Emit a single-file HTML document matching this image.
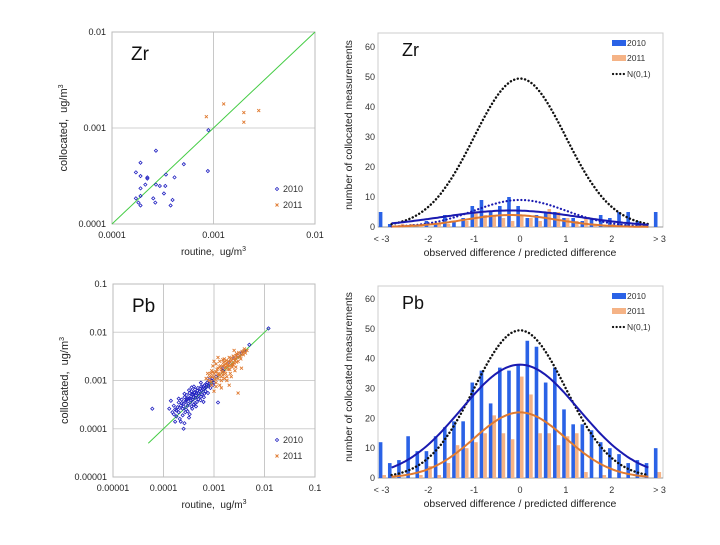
<!DOCTYPE html>
<html><head><meta charset="utf-8"><style>
body{margin:0;background:#fff;width:720px;height:540px;overflow:hidden}
svg{font-family:"Liberation Sans",sans-serif}
</style></head><body>
<svg id="fig" width="720" height="540" viewBox="0 0 720 540" xmlns="http://www.w3.org/2000/svg"></svg>
<script>
// ---- data ----
const histCategories = ["<-3","-2.8","-2.6","-2.4","-2.2","-2","-1.8","-1.6","-1.4","-1.2","-1","-0.8","-0.6","-0.4","-0.2","0","0.2","0.4","0.6","0.8","1","1.2","1.4","1.6","1.8","2","2.2","2.4","2.6","2.8",">3"];
const zrHist2010 = [5,1,0,0,0,2,1,4,2,3,7,9,5,7,10,7,3,4,5,5,3,3,2,3,4,3,5,5,2,1,5];
const zrHist2011 = [0,0,1,1,1,0,1,1,0,2,5,4,4,3,2,4,3,2,6,5,3,2,3,1,0,1,0,0,1,0,0];
const pbHist2010 = [12,5,6,14,9,9,14,17,19,19,32,36,25,37,36,38,46,44,32,37,23,18,18,16,12,10,8,5,6,5,10];
const pbHist2011 = [1,0,0,0,1,4,1,5,11,10,12,15,21,15,13,34,28,15,15,11,14,15,2,0,1,0,0,0,0,0,2];
// fitted curves: [peak, mean, sigma]
const zrFit2010 = [5.5,-0.2,1.5];
const zrFit2011 = [4,-0.2,1.0];
const zrNorm2010 = [9,0,1];
const zrNorm = [49.5,0,1];
const pbFit2010 = [38,0,1.28];
const pbFit2011 = [22,0,1.0];
const pbNorm = [49.5,0,1];
const yTicks = [0,10,20,30,40,50,60];
const xTickLabels = ["< -3","-2","-1","0","1","2","> 3"];
const xTickValues = [-3,-2,-1,0,1,2,3];

const zrScatter2010 = [[1.72e-4,3.45e-4],[1.91e-4,4.35e-4],[1.91e-4,3.16e-4],[2.23e-4,3.06e-4],[2.23e-4,2.97e-4],[1.91e-4,2.35e-4],[2.13e-4,2.57e-4],[2.71e-4,5.8e-4],[2.71e-4,2.57e-4],[2.96e-4,2.49e-4],[3.40e-4,3.27e-4],[4.13e-4,3.06e-4],[3.35e-4,2.49e-4],[5.1e-4,4.2e-4],[1.72e-4,1.85e-4],[1.82e-4,1.67e-4],[1.91e-4,1.96e-4],[1.91e-4,1.56e-4],[2.55e-4,1.85e-4],[2.67e-4,1.67e-4],[3.25e-4,2.08e-4],[3.95e-4,1.78e-4],[3.78e-4,1.56e-4],[8.8e-4,3.56e-4],[8.9e-4,9.5e-4]];
const zrScatter2011 = [[8.5e-4,1.31e-3],[1.26e-3,1.78e-3],[1.99e-3,1.45e-3],[1.99e-3,1.15e-3],[2.79e-3,1.52e-3]];
const pbScatter2010 = [[1.5e-4,2.2e-4],[1.6e-4,3e-4],[1.7e-4,2.5e-4],[1.8e-4,1.8e-4],[1.9e-4,2.8e-4],[2e-4,3.5e-4],[2e-4,2.2e-4],[2.1e-4,1.6e-4],[2.2e-4,3e-4],[2.3e-4,4e-4],[2.4e-4,2.6e-4],[2.5e-4,3.3e-4],[2.6e-4,4.5e-4],[2.7e-4,2.2e-4],[2.8e-4,3.8e-4],[2.9e-4,5e-4],[3e-4,3e-4],[3.1e-4,4.2e-4],[3.2e-4,1.7e-4],[3.3e-4,5.5e-4],[3.4e-4,3.5e-4],[3.5e-4,4.6e-4],[3.6e-4,6e-4],[3.7e-4,2.6e-4],[3.8e-4,4e-4],[3.9e-4,5.2e-4],[4e-4,3.2e-4],[4.2e-4,6.5e-4],[4.3e-4,4.4e-4],[4.5e-4,5.5e-4],[4.6e-4,3.6e-4],[4.8e-4,7e-4],[5e-4,4.8e-4],[5.2e-4,6e-4],[5.4e-4,3.9e-4],[5.6e-4,7.5e-4],[5.8e-4,5.2e-4],[6e-4,6.6e-4],[6.3e-4,4.5e-4],[6.5e-4,8e-4],[6.8e-4,6e-4],[7e-4,7.2e-4],[7.3e-4,9e-4],[7.6e-4,5.5e-4],[8e-4,8.5e-4],[8.5e-4,7e-4],[9e-4,1e-3],[9.5e-4,8e-4],[1e-3,9e-4],[2.2e-4,1.4e-4],[2.6e-4,1.3e-4],[3.3e-4,2e-4],[1.4e-4,3.8e-4],[1.3e-4,2.6e-4],[6e-5,2.6e-4],[2.5e-4,1e-4],[1.2e-3,3.5e-4],[0.012,0.012],[5e-3,5.5e-3],[3e-3,3.3e-3],[2e-3,2.4e-3],[1.5e-3,1.6e-3],[4e-3,4.2e-3],[4.4e-4,2.9e-4],[5.5e-4,9e-4],[6.2e-4,3.6e-4],[3.6e-4,7.2e-4],[2.8e-4,2.5e-4],[7.5e-4,1.1e-3],[1.7e-4,1.4e-4],
 [1.6e-4,2e-4],[1.8e-4,2.4e-4],[2.1e-4,2.7e-4],[2.3e-4,3.4e-4],[2.5e-4,2.9e-4],[2.7e-4,3.6e-4],[2.9e-4,4.1e-4],[3.1e-4,3.3e-4],[3.3e-4,4.3e-4],[3.5e-4,3.9e-4],[3.7e-4,5.1e-4],[3.9e-4,4.5e-4],[4.1e-4,5.6e-4],[4.4e-4,4.9e-4],[4.7e-4,6.1e-4],[4.9e-4,5.5e-4],[5.3e-4,6.7e-4],[5.7e-4,6.2e-4],[6.1e-4,7.4e-4],[6.6e-4,7e-4],[7.1e-4,8.2e-4],[7.8e-4,7.8e-4],[8.3e-4,9.5e-4],[8.8e-4,8.8e-4],[9.2e-4,1.1e-3],[2.4e-4,1.9e-4],[3e-4,2.3e-4],[3.6e-4,2.9e-4],[4.2e-4,3.4e-4],[4.9e-4,4.1e-4],[5.5e-4,4.6e-4],[6.4e-4,5.3e-4],[2e-4,4.2e-4],[2.6e-4,5.3e-4],[3.2e-4,6.3e-4],[4e-4,7.5e-4],[1.5e-3,1.8e-3],[2.5e-3,2.9e-3],[3.5e-3,3.7e-3],[1.1e-3,1.2e-3]];
const pbScatter2011 = [[8e-4,1e-3],[8.5e-4,1.4e-3],[9e-4,8e-4],[9.5e-4,2e-3],[1e-3,1.2e-3],[1e-3,6e-4],[1.1e-3,1.5e-3],[1.1e-3,9e-4],[1.2e-3,1.8e-3],[1.2e-3,1.1e-3],[1.3e-3,2.5e-3],[1.3e-3,1.3e-3],[1.4e-3,1e-3],[1.4e-3,1.7e-3],[1.5e-3,2e-3],[1.5e-3,1.3e-3],[1.6e-3,2.8e-3],[1.6e-3,1.5e-3],[1.7e-3,1.9e-3],[1.8e-3,1.2e-3],[1.8e-3,2.3e-3],[1.9e-3,1.7e-3],[2e-3,3e-3],[2e-3,2e-3],[2.1e-3,1.4e-3],[2.2e-3,2.6e-3],[2.3e-3,1.9e-3],[2.4e-3,3.2e-3],[2.5e-3,2.3e-3],[2.6e-3,1.6e-3],[2.7e-3,2.9e-3],[2.8e-3,3.6e-3],[3e-3,2.5e-3],[3e-3,5.5e-4],[3.2e-3,3.3e-3],[3.4e-3,2.8e-3],[3.6e-3,4e-3],[3.8e-3,3.4e-3],[4e-3,4.5e-3],[4.2e-3,3.7e-3],[4.5e-3,4.2e-3],[1e-3,2.5e-3],[1.2e-3,3e-3],[7e-4,1.1e-3],[2.5e-3,4.2e-3],[1.7e-3,2.2e-3],[2e-3,8e-4],[3.5e-3,1.8e-3],[9e-4,1.6e-3],[1.4e-3,7e-4],[1.1e-3,2.2e-3],[1.3e-3,8e-4],[2.2e-3,1.2e-3],[9e-4,1.2e-3],[1.6e-3,1.1e-3],
 [8.2e-4,1.2e-3],[8.8e-4,9.5e-4],[9.6e-4,1.5e-3],[1.05e-3,1.05e-3],[1.15e-3,1.7e-3],[1.25e-3,1.4e-3],[1.35e-3,2e-3],[1.45e-3,1.5e-3],[1.55e-3,2.4e-3],[1.65e-3,1.8e-3],[1.75e-3,2.6e-3],[1.85e-3,2e-3],[1.95e-3,2.5e-3],[2.05e-3,1.7e-3],[2.15e-3,2.9e-3],[2.3e-3,2.2e-3],[2.45e-3,2.8e-3],[2.6e-3,2.6e-3],[2.75e-3,3.3e-3],[2.9e-3,3e-3],[3.1e-3,3.8e-3],[3.3e-3,3.1e-3],[3.7e-3,3.6e-3],[3.9e-3,4.1e-3],[1.2e-3,1.3e-3],[1.4e-3,1.2e-3],[1.7e-3,1.4e-3],[1.9e-3,2.1e-3],[2.2e-3,2e-3],[1.0e-3,1.4e-3],[1.3e-3,1.9e-3],[1.6e-3,2.1e-3],[2.1e-3,2.4e-3],[2.4e-3,2.1e-3],[2.8e-3,2.4e-3],[1.1e-3,7.5e-4],[1.8e-3,1e-3],[2.7e-3,1.9e-3],[7.5e-4,1.4e-3],[1.5e-3,2.7e-3]];

const NS="http://www.w3.org/2000/svg";
const svg=document.getElementById('fig');
function mk(tag,attrs,parent,text){const e=document.createElementNS(NS,tag);for(const k in attrs)e.setAttribute(k,attrs[k]);if(text!==undefined)e.textContent=text;(parent||svg).appendChild(e);return e;}

// ---- scatter panels ----
function scatter(cfg){
  const g=mk('g',{});
  
  
  const lx=v=>cfg.x0+(Math.log10(v)-cfg.dmin)/(cfg.dmax-cfg.dmin)*(cfg.x1-cfg.x0);
  const ly=v=>cfg.y1-(Math.log10(v)-cfg.ymin)/(cfg.ymax-cfg.ymin)*(cfg.y1-cfg.y0);
  for(let d=cfg.dmin;d<=cfg.dmax;d++){
    const x=lx(Math.pow(10,d));
    const l=mk('line',{x1:x,x2:x,y1:cfg.y0,y2:cfg.y1,stroke:'#c8c8c8','stroke-width':1},g);
    
    
    const t=mk('text',{x:x,y:cfg.y1+14,'font-size':9,'text-anchor':'middle',fill:'#222'},g,cfg.xlabels[d-cfg.dmin]);
    
    
  }
  for(let d=cfg.ymin;d<=cfg.ymax;d++){
    const y=ly(Math.pow(10,d));
    const l=mk('line',{x1:cfg.x0,x2:cfg.x1,y1:y,y2:y,stroke:'#d0d0d0','stroke-width':1},g);
    
    
    const t=mk('text',{x:cfg.x0-6,y:y+3,'font-size':9,'text-anchor':'end',fill:'#222'},g,cfg.ylabels[d-cfg.ymin]);
    
    
  }
  const fr=mk('rect',{x:cfg.x0,y:cfg.y0,width:cfg.x1-cfg.x0,height:cfg.y1-cfg.y0,fill:'none',stroke:'#bbb'},g);
  
  
  const ln=mk('line',{x1:lx(cfg.line[0]),y1:ly(cfg.line[0]),x2:lx(cfg.line[1]),y2:ly(cfg.line[1]),stroke:'#44cc44','stroke-width':1},g);
  
  
  cfg.s1.forEach(p=>{
    const x=lx(p[0]),y=ly(p[1]);
    const m=mk('path',{d:`M${x} ${y-1.6}L${x+1.6} ${y}L${x} ${y+1.6}L${x-1.6} ${y}Z`,fill:'none',stroke:'#2020c0','stroke-width':0.8},g);
    
    
  });
  cfg.s2.forEach(p=>{
    const x=lx(p[0]),y=ly(p[1]);
    const m=mk('path',{d:`M${x-1.5} ${y-1.5}L${x+1.5} ${y+1.5}M${x+1.5} ${y-1.5}L${x-1.5} ${y+1.5}`,stroke:'#e07a30','stroke-width':0.9},g);
    
    
  });
  const el=mk('text',{x:cfg.x0+19,y:cfg.y0+28,'font-size':19,fill:'#111'},g,cfg.el);
  
  
  const lg1=mk('path',{d:`M${cfg.x1-38} ${cfg.leg-1.6}l1.6 1.6l-1.6 1.6l-1.6 -1.6z`,fill:'none',stroke:'#2020c0','stroke-width':0.8},g);
  
  
  const lt1=mk('text',{x:cfg.x1-32,y:cfg.leg+3,'font-size':9,fill:'#333'},g,'2010');
  
  
  const lg2=mk('path',{d:`M${cfg.x1-39.5} ${cfg.leg+14.5}l3 3m0 -3l-3 3`,stroke:'#e07a30','stroke-width':0.9},g);
  
  
  const lt2=mk('text',{x:cfg.x1-32,y:cfg.leg+19,'font-size':9,fill:'#333'},g,'2011');
  
  
  const xt=mk('text',{x:(cfg.x0+cfg.x1)/2,y:cfg.y1+31,'font-size':10,'text-anchor':'middle',fill:'#222'},g);
  xt.innerHTML='routine,&#160; ug/m<tspan font-size="7" dy="-4">3</tspan>';
  
  
  const cy=(cfg.y0+cfg.y1)/2, cx=cfg.x0-45;
  const yt=mk('text',{x:cx,y:cy,'font-size':11,'text-anchor':'middle',fill:'#222',transform:`rotate(-90 ${cx} ${cy})`},g);
  yt.innerHTML='collocated,&#160; ug/m<tspan font-size="7" dy="-4">3</tspan>';
  
  
}
scatter({name:'zr-scatter-chart',x0:112,x1:315,y0:32,y1:224,dmin:-4,dmax:-2,ymin:-4,ymax:-2,
  xlabels:['0.0001','0.001','0.01'],ylabels:['0.0001','0.001','0.01'],line:[1e-4,1e-2],
  s1:zrScatter2010,s2:zrScatter2011,el:'Zr',leg:189});
scatter({name:'pb-scatter-chart',x0:113,x1:315,y0:284,y1:477,dmin:-5,dmax:-1,ymin:-5,ymax:-1,
  xlabels:['0.00001','0.0001','0.001','0.01','0.1'],ylabels:['0.00001','0.0001','0.001','0.01','0.1'],line:[5e-5,1.2e-2],
  s1:pbScatter2010,s2:pbScatter2011,el:'Pb',leg:440});

// ---- histogram panels ----
function hist(cfg){
  const g=mk('g',{});
  
  
  const x0=378,x1=663;
  const step=9.17, c0=382.5;
  const cx=i=>c0+i*step;
  const vx=v=>520+v*step*5;
  const sy=v=>cfg.yb-v*(cfg.yb-cfg.yt)/60;
  const fr=mk('rect',{x:x0,y:cfg.top,width:x1-x0,height:cfg.yb-cfg.top,fill:'none',stroke:'#ccc'},g);
  
  
  yTicks.forEach(t=>{
    const l=mk('text',{x:375,y:sy(t)+3,'font-size':9,'text-anchor':'end',fill:'#333'},g,String(t));
    
    
  });
  xTickValues.forEach((v,k)=>{
    const l=mk('text',{x:vx(v)+(v===-3?-1:v===3?2:0),y:cfg.yb+15,'font-size':9,'text-anchor':'middle',fill:'#333'},g,xTickLabels[k]);
    
    
  });
  const ax=mk('line',{x1:x0,x2:x1,y1:cfg.yb,y2:cfg.yb,stroke:'#999'},g);
  
  
  histCategories.forEach((c,i)=>{
    const v1=cfg.h1[i],v2=cfg.h2[i];
    const b=mk('rect',{x:cx(i)-3.7,y:sy(v1),width:3.6,height:cfg.yb-sy(v1),fill:'#2a62e6'},g);
    
    
    const b2=mk('rect',{x:cx(i)-0.1,y:sy(v2),width:3.6,height:cfg.yb-sy(v2),fill:'#f5b386'},g);
    
    
  });
  function curve(p,color,dash,w,name){
    let d='';
    for(let v=-2.8;v<=2.801;v+=0.05){
      const y=p[0]*Math.exp(-Math.pow(v-p[1],2)/(2*p[2]*p[2]));
      d+=(d?'L':'M')+vx(v).toFixed(1)+' '+sy(y).toFixed(1);
    }
    const a={d:d,fill:'none',stroke:color,'stroke-width':w};
    if(dash){a['stroke-dasharray']=dash;a['stroke-linecap']='round';}
    const e=mk('path',a,g);
    
    
  }
  cfg.curves.forEach(c=>curve(c[0],c[1],c[2],c[3],c[4]));
  const el=mk('text',{x:402,y:cfg.top+23,'font-size':18,fill:'#111'},g,cfg.el);
  
  
  const ly=cfg.top+11;
  const s1=mk('rect',{x:612,y:ly-4,width:14,height:6,fill:'#2a62e6'},g);
  
  
  const t1=mk('text',{x:627,y:ly+2,'font-size':8.5,fill:'#333'},g,'2010');
  
  
  const s2=mk('rect',{x:612,y:ly+11,width:14,height:6,fill:'#f5b386'},g);
  
  
  const t2=mk('text',{x:627,y:ly+17,'font-size':8.5,fill:'#333'},g,'2011');
  
  
  const s3=mk('line',{x1:613,x2:624,y1:ly+30,y2:ly+30,stroke:'#111','stroke-width':2.2,'stroke-dasharray':'0.1 3.5','stroke-linecap':'round'},g);
  
  
  const t3=mk('text',{x:627,y:ly+33,'font-size':8.5,fill:'#333'},g,'N(0,1)');
  
  
  const xt=mk('text',{x:520,y:cfg.yb+29,'font-size':10.5,'text-anchor':'middle',fill:'#222'},g,'observed difference / predicted difference');
  
  
  const yc=(cfg.top+cfg.yb)/2-5;
  const yt=mk('text',{x:352,y:yc,'font-size':10.5,'text-anchor':'middle',fill:'#222',transform:`rotate(-90 352 ${yc})`},g,'number of collocated measurements');
  
  
}
hist({name:'zr-histogram-chart',top:33,yb:227,yt:47,h1:zrHist2010,h2:zrHist2011,el:'Zr',
  curves:[[zrNorm,'#111','0.1 3.6',2.4,'normal-curve'],[zrNorm2010,'#1a1ab0','0.1 3.6',2.2,'normal-curve-2010'],[zrFit2010,'#1a1ab0',null,2,'fit-curve-2010'],[zrFit2011,'#e07a30',null,2,'fit-curve-2011']]});
hist({name:'pb-histogram-chart',top:286,yb:478,yt:299,h1:pbHist2010,h2:pbHist2011,el:'Pb',
  curves:[[pbNorm,'#111','0.1 3.6',2.4,'normal-curve'],[pbFit2010,'#1a1ab0',null,2,'fit-curve-2010'],[pbFit2011,'#e07a30',null,2,'fit-curve-2011']]});
</script>
</body></html>
